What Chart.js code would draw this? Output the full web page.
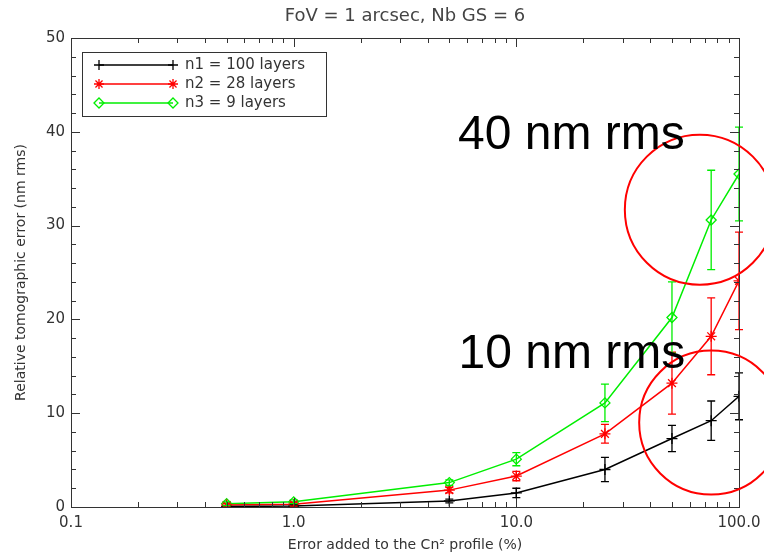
<!DOCTYPE html>
<html>
<head>
<meta charset="utf-8">
<script src="https://cdn.jsdelivr.net/npm/chart.js@4.4.0/dist/chart.umd.min.js"></script>
<style>
  html, body { margin: 0; padding: 0; background: #fff; }
  #wrap { width: 764px; height: 558px; }
</style>
</head>
<body>
<div id="wrap"><canvas id="chart" width="764" height="558"></canvas></div>
<script>
// --- dados ---
const xValues = [0.5, 1, 5, 10, 25, 50, 75, 100];
const n1Values = [0.05, 0.1, 0.65, 1.5, 4.0, 7.3, 9.2, 11.8];
const n1Errors = [0.1, 0.15, 0.2, 0.5, 1.3, 1.4, 2.1, 2.5];
const n2Values = [0.2, 0.3, 1.8, 3.3, 7.8, 13.2, 18.2, 24.1];
const n2Errors = [0.2, 0.2, 0.3, 0.5, 1.0, 3.3, 4.1, 5.2];
const n3Values = [0.35, 0.55, 2.6, 5.1, 11.1, 20.2, 30.6, 35.5];
const n3Errors = [0.2, 0.2, 0.3, 0.7, 2.0, 3.8, 5.3, 5.0];
const seriesLabels = ['n1 = 100 layers', 'n2 = 28 layers', 'n3 = 9 layers'];
const seriesColors = ['#000000', '#ff0000', '#00ee00'];
const seriesStyles = ['cross', 'star', 'rectRot'];
const xTickValues = [0.1, 1, 10, 100];
const yTickValues = [0, 10, 20, 30, 40, 50];

// anotações (em coordenadas de dados)
const noteTexts = ['40 nm rms', '10 nm rms'];
const noteX = [5.47, 5.5];
const noteY = [38.2, 14.8];
const circleX = [66.7, 75];
const circleY = [31.7, 9.0];

const TEXT_COLOR = '#333';
const FONT = '"DejaVu Sans", sans-serif';

function toPoints(vals) {
    return xValues.map((x, i) => ({ x: x, y: vals[i] }));
}

const allValues = [n1Values, n2Values, n3Values];
const allErrors = [n1Errors, n2Errors, n3Errors];

const datasets = allValues.map((vals, i) => ({
    label: seriesLabels[i],
    data: toPoints(vals),
    borderColor: seriesColors[i],
    backgroundColor: 'rgba(0,0,0,0)',
    borderWidth: 1.5,
    pointStyle: seriesStyles[i],
    pointRadius: i === 2 ? 5 : 5.5,
    pointBorderWidth: 1.3,
    pointBorderColor: seriesColors[i],
    pointBackgroundColor: 'rgba(0,0,0,0)',
    tension: 0,
    fill: false
}));

// barras de erro
const errorBarsPlugin = {
    id: 'errorBars',
    afterDatasetsDraw(chart) {
        const { ctx, scales } = chart;
        ctx.save();
        allErrors.forEach((errs, s) => {
            ctx.strokeStyle = seriesColors[s];
            ctx.lineWidth = 1.3;
            xValues.forEach((x, i) => {
                const px = scales.x.getPixelForValue(x);
                const yTop = scales.y.getPixelForValue(allValues[s][i] + errs[i]);
                const yBot = scales.y.getPixelForValue(Math.max(0, allValues[s][i] - errs[i]));
                ctx.beginPath();
                ctx.moveTo(px, yTop); ctx.lineTo(px, yBot);
                ctx.moveTo(px - 4, yTop); ctx.lineTo(px + 4, yTop);
                ctx.moveTo(px - 4, yBot); ctx.lineTo(px + 4, yBot);
                ctx.stroke();
            });
        });
        ctx.restore();
    }
};

// moldura, ticks internos, título, legenda e anotações
const framePlugin = {
    id: 'frame',
    afterDraw(chart) {
        const { ctx, chartArea: a, scales } = chart;
        ctx.save();
        ctx.strokeStyle = '#333';
        ctx.lineWidth = 1;
        ctx.strokeRect(a.left + 0.5, a.top + 0.5, a.right - a.left, a.bottom - a.top);

        ctx.beginPath();
        for (let v = 0; v <= 50; v += 2) {
            const py = Math.round(scales.y.getPixelForValue(v)) + 0.5;
            const len = v % 10 === 0 ? 9 : 5;
            ctx.moveTo(a.left, py); ctx.lineTo(a.left + len, py);
            ctx.moveTo(a.right, py); ctx.lineTo(a.right - len, py);
        }
        [0.1, 1, 10].forEach(dec => {
            for (let k = 1; k <= 9; k++) {
                const v = dec * k;
                const px = Math.round(scales.x.getPixelForValue(v)) + 0.5;
                const len = k === 1 ? 9 : 5;
                ctx.moveTo(px, a.bottom); ctx.lineTo(px, a.bottom - len);
                ctx.moveTo(px, a.top); ctx.lineTo(px, a.top + len);
            }
        });
        ctx.stroke();

        // título
        ctx.fillStyle = '#444';
        ctx.font = '18px ' + FONT;
        ctx.textAlign = 'center';
        ctx.textBaseline = 'middle';
        ctx.fillText('FoV = 1 arcsec, Nb GS = 6', (a.left + a.right) / 2, 16);

        // legenda
        const lx = 82, ly = 52, lw = 244, lh = 64;
        ctx.fillStyle = '#fff';
        ctx.fillRect(lx, ly, lw, lh);
        ctx.strokeStyle = '#333';
        ctx.strokeRect(lx + 0.5, ly + 0.5, lw, lh);
        const rows = [65, 84, 103];
        seriesLabels.forEach((lab, i) => {
            const y = rows[i];
            ctx.strokeStyle = seriesColors[i];
            ctx.fillStyle = 'rgba(0,0,0,0)';
            ctx.lineWidth = 1.5;
            ctx.beginPath();
            ctx.moveTo(99, y); ctx.lineTo(173, y);
            ctx.stroke();
            ctx.lineWidth = 1.3;
            [99, 173].forEach(px => {
                Chart.helpers.drawPoint(ctx, { pointStyle: seriesStyles[i], radius: 5, rotation: 0, borderWidth: 1.3 }, px, y);
            });
            ctx.fillStyle = TEXT_COLOR;
            ctx.font = '15px ' + FONT;
            ctx.textAlign = 'left';
            ctx.textBaseline = 'middle';
            ctx.fillText(lab, 185, y);
        });

        // círculos vermelhos
        ctx.strokeStyle = '#ff0000';
        ctx.lineWidth = 2;
        circleX.forEach((cx, i) => {
            ctx.beginPath();
            ctx.arc(scales.x.getPixelForValue(cx), scales.y.getPixelForValue(circleY[i]), i === 0 ? 75 : 72, 0, Math.PI * 2);
            ctx.stroke();
        });

        // textos grandes
        ctx.fillStyle = '#000';
        ctx.font = '48px "Liberation Sans", Arial, sans-serif';
        ctx.textAlign = 'left';
        ctx.textBaseline = 'alphabetic';
        noteTexts.forEach((t, i) => {
            ctx.fillText(t, scales.x.getPixelForValue(noteX[i]), scales.y.getPixelForValue(noteY[i]));
        });
        ctx.restore();
    }
};

const whiteBg = {
    id: 'whiteBg',
    beforeDraw(chart) {
        const { ctx } = chart;
        ctx.save();
        ctx.fillStyle = '#fff';
        ctx.fillRect(0, 0, chart.width, chart.height);
        ctx.restore();
    }
};

const chart = new Chart(document.getElementById('chart'), {
    type: 'line',
    data: { datasets: datasets },
    options: {
        responsive: false,
        animation: false,
        layout: { padding: { top: 38, right: 25, left: 0, bottom: 0 } },
        plugins: {
            legend: { display: false },
            title: { display: false },
            tooltip: { enabled: false }
        },
        scales: {
            x: {
                type: 'logarithmic',
                min: 0.1,
                max: 100,
                grid: { display: false, drawTicks: false, tickLength: 0 },
                border: { display: false },
                afterBuildTicks: scale => { scale.ticks = xTickValues.map(v => ({ value: v })); },
                afterFit: scale => {
                    scale.height = 51;
                    scale.paddingLeft = 0;
                    scale.paddingRight = 0;
                },
                ticks: {
                    autoSkip: false,
                    maxRotation: 0,
                    padding: 7,
                    color: TEXT_COLOR,
                    font: { family: FONT, size: 15 },
                    callback: v => Number(v).toFixed(1)
                },
                title: {
                    display: true,
                    text: 'Error added to the Cn² profile (%)',
                    color: TEXT_COLOR,
                    font: { family: FONT, size: 14 },
                    padding: { top: 0, bottom: 4 }
                }
            },
            y: {
                min: 0,
                max: 50,
                grid: { display: false, drawTicks: false, tickLength: 0 },
                border: { display: false },
                afterBuildTicks: scale => { scale.ticks = yTickValues.map(v => ({ value: v })); },
                afterFit: scale => {
                    scale.width = 71;
                    scale.paddingTop = 0;
                    scale.paddingBottom = 0;
                },
                ticks: {
                    padding: 6,
                    color: TEXT_COLOR,
                    font: { family: FONT, size: 15 }
                },
                title: {
                    display: true,
                    text: 'Relative tomographic error (nm rms)',
                    color: TEXT_COLOR,
                    font: { family: FONT, size: 14 },
                    padding: { top: 13, bottom: 0 }
                }
            }
        }
    },
    plugins: [whiteBg, errorBarsPlugin, framePlugin]
});
</script>
</body>
</html>
